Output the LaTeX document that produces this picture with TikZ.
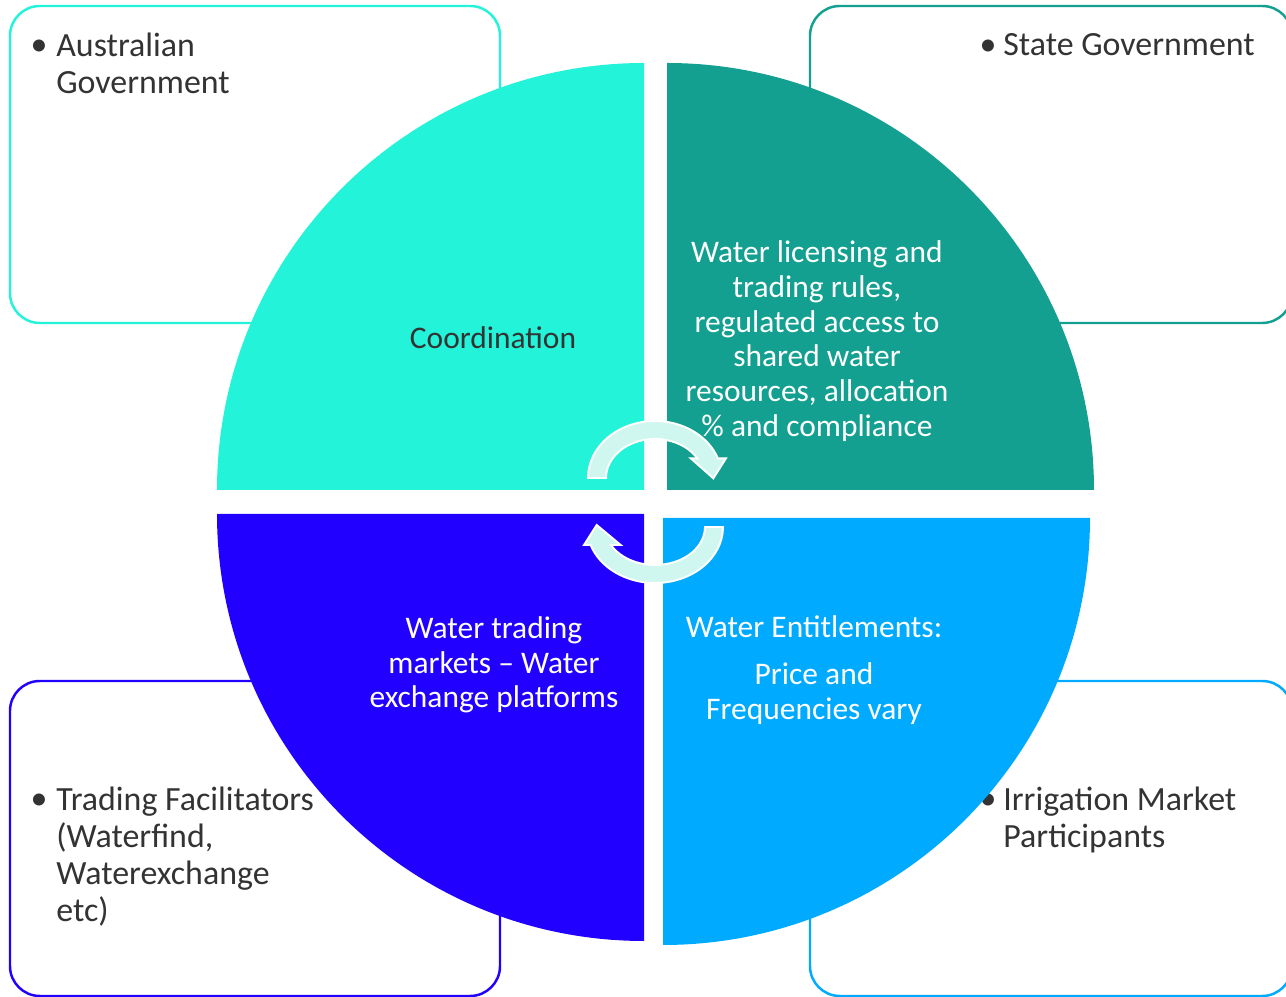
\documentclass[tikz,border=0pt]{standalone}
\usepackage{fontspec}
\setmainfont{Carlito}
\usetikzlibrary{calc}
\definecolor{cTL}{HTML}{22F3D9}
\definecolor{cTR}{HTML}{13A090}
\definecolor{cBL}{HTML}{2200FF}
\definecolor{cBR}{HTML}{00AAFF}
\definecolor{txtdark}{HTML}{333333}
\definecolor{mint}{HTML}{CFF7F0}
\begin{document}
\begin{tikzpicture}[x=0.02cm,y=0.02cm,
  outerbox/.style={draw=#1, line width=1.4pt, rounded corners=17pt},
  bul/.style={inner sep=0pt, anchor=base, text=txtdark, font=\fontsize{19.3}{21.1}\selectfont},
  boxtxt/.style={inner sep=0pt, anchor=base west, align=left, text=txtdark, font=\fontsize{19.3}{21.1}\selectfont},
  intxt/.style={inner sep=0pt, anchor=base, align=center, text=white, font=\fontsize{17.9}{19.8}\selectfont},
  cycarrow/.style={fill=mint, draw=white, line width=1.1pt, line join=miter}
]
\useasboundingbox (0,0) rectangle (1286,997);
% outer boxes
\draw[outerbox=cTL] (10,674) rectangle (500,991);
\draw[outerbox=cTR] (810,674) rectangle (1292,991);
\draw[outerbox=cBL] (10,1) rectangle (500,316);
\draw[outerbox=cBR] (810,1) rectangle (1292,316);
% box texts (node base = last line baseline)
\node[bul] (b1) at (39,941) {•};
\node[boxtxt] (t1) at (56,903.8) {Australian\\Government};
\node[bul] (b2) at (988,941) {•};
\node[boxtxt] (t2) at (1003,941) {State Government};
\node[bul] (b3) at (39,187) {•};
\node[boxtxt] (t3) at (56,75.4) {Trading Facilitators\\(Waterfind,\\Waterexchange\\etc)};
\node[bul] (b4) at (988,187) {•};
\node[boxtxt] (t4) at (1003,149.8) {Irrigation Market\\Participants};
% quadrants
\fill[cTL] (644,507) -- (217,507) arc[start angle=180,end angle=90,radius=427] -- cycle;
\fill[cTR] (667,507) -- (667,934) arc[start angle=90,end angle=0,radius=427] -- cycle;
\fill[cBL] (644,483) -- (217,483) arc[start angle=180,end angle=270,radius=427] -- cycle;
\fill[cBR] (663,479) -- (1090,479) arc[start angle=0,end angle=-90,radius=427] -- cycle;
% inner texts
\node[intxt, text=txtdark] (q1) at (493,648) {Coordination};
\node[intxt] (q2) at (817,560.5) {Water licensing and\\trading rules,\\regulated access to\\shared water\\resources, allocation\\\% and compliance};
\node[intxt] (q3) at (494,289.2) {Water trading\\markets – Water\\exchange platforms};
\node[intxt] (q4) at (814,277.9) {Water Entitlements:\\[7pt]Price and\\Frequencies vary};
% circular arrows
\draw[cycarrow] (588,519) arc[start angle=180,end angle=20.2,x radius=67,y radius=57]
  -- (726,538.7) -- (713.3,518.7) -- (690.7,538.7)
  -- ($(655,519)+(30.3:49 and 39)$) arc[start angle=30.3,end angle=180,x radius=49,y radius=39] -- cycle;
\draw[cycarrow] (723,470) arc[start angle=0,end angle=-161.3,x radius=68,y radius=56]
  -- (584,452) -- (596.7,472) -- (620.7,452)
  -- ($(655,470)+(-151.7:50 and 38)$) arc[start angle=-151.7,end angle=0,x radius=50,y radius=38] -- cycle;
\end{tikzpicture}
\end{document}
